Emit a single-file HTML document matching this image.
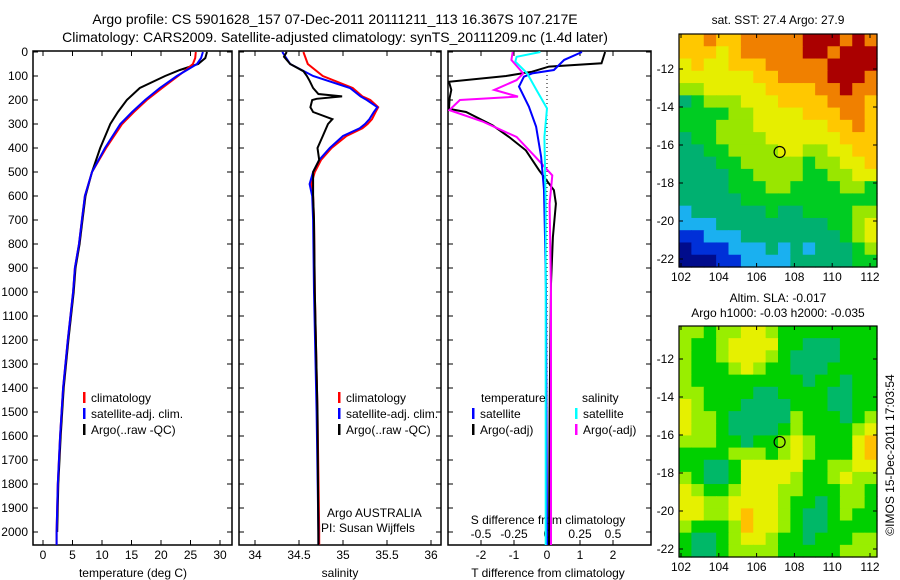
<!DOCTYPE html>
<html><head><meta charset="utf-8"><style>
html,body{margin:0;padding:0;background:#fff;}
svg{display:block;font-family:"Liberation Sans",sans-serif;}
</style></head><body>
<svg id="c" width="900" height="580" viewBox="0 0 900 580" xmlns="http://www.w3.org/2000/svg">
<rect width="900" height="580" fill="#fff"/>
<text x="335" y="24" font-size="14" text-anchor="middle">Argo profile: CS 5901628_157 07-Dec-2011 20111211_113 16.367S 107.217E</text>
<text x="335" y="42" font-size="14" text-anchor="middle">Climatology: CARS2009. Satellite-adjusted climatology: synTS_20111209.nc (1.4d later)</text>
<g id="g"></g>
</svg>
<script>
// ---------- data ----------
const tDepth=[0,25,50,75,100,150,200,250,300,400,500,600,700,800,900,1000,1200,1400,1600,1800,2000,2055];
const tClim=[25.9,25.8,25.4,24.2,22.9,20.2,17.6,15.4,13.4,10.7,8.3,7.1,6.6,6.1,5.4,5.1,4.2,3.4,2.9,2.5,2.3,2.3];
const tSat=[27.1,26.8,26.1,24.4,22.7,19.8,17.3,15.1,13.1,10.5,8.3,7.1,6.6,6.1,5.4,5.1,4.2,3.4,2.9,2.5,2.3,2.3];
const tArgo=[27.8,27.5,26.3,23.2,20.7,16.4,14.2,12.7,11.4,9.7,8.3,7.2,6.7,6.2,5.5,5.2,4.3,3.5,3.0,2.6,2.4];
const sDepth=[0,50,100,150,185,200,230,250,280,300,318,350,400,450,500,550,600,700,1000,1500,2000,2055];
const sClim=[34.55,34.60,34.77,35.11,35.22,35.31,35.40,35.37,35.33,35.28,35.22,35.04,34.87,34.75,34.68,34.64,34.66,34.67,34.68,34.71,34.73,34.73];
const sSat=[34.31,34.40,34.66,35.08,35.20,35.27,35.39,35.35,35.30,35.25,35.19,35.00,34.85,34.73,34.66,34.62,34.65,34.66,34.67,34.70,34.72,34.72];
const sArgoDepth=[0,20,50,80,100,120,150,175,185,195,200,230,250,280,300,350,400,450,500,550,600,700,1000,1500,2055];
const sArgo=[34.36,34.33,34.40,34.55,34.59,34.62,34.66,34.72,34.99,34.70,34.65,34.63,34.66,34.88,34.83,34.77,34.71,34.73,34.66,34.66,34.66,34.67,34.68,34.71,34.72];
const dDepthBlack=[0,47,61,82,100,124,158,192,237,250,306,354,410,493,576,632,771,965,1500,2055];
const dTArgo=[1.76,1.65,0.06,-0.45,-1.24,-2.97,-2.9,-2.95,-2.97,-2.45,-1.65,-1.15,-0.64,-0.24,0.21,0.27,0.18,0.12,0.08,0.06];
const dDepthBlue=[0,33,75,89,103,144,228,311,436,575,770,1000,2055];
const dTSat=[1.06,0.52,0.21,-0.45,-0.70,-0.85,-0.55,-0.33,-0.18,-0.09,-0.06,-0.03,0.0];
const dDepthMag=[0,33,89,117,158,186,200,242,289,354,436,514,632,1000,2055];
const dSArgo=[-0.26,-0.27,-0.18,-0.23,-0.40,-0.22,-0.66,-0.74,-0.49,-0.23,-0.09,0.04,0.02,0.03,0.03];
const dDepthCyan=[0,20,40,89,158,235,354,632,1000,2055];
const dSSat=[-0.05,-0.23,-0.24,-0.15,-0.08,0.0,-0.02,-0.01,-0.01,-0.01];
const depthTicks=[0,100,200,300,400,500,600,700,800,900,1000,1100,1200,1300,1400,1500,1600,1700,1800,1900,2000];
const tTicks=[0,5,10,15,20,25,30];
const sTicks=[34,34.5,35,35.5,36];
const sTickLabels=["34","34.5","35","35.5","36"];
const dTTicks=[-2,-1,0,1,2];
const dSTicks=[-0.5,-0.25,0,0.25,0.5];
const dSTickLabels=["-0.5","-0.25","0","0.25","0.5"];
const latTicks=[-12,-14,-16,-18,-20,-22];
const lonTicks=[102,104,106,108,110,112];
const sstRows=[
"7787788888999898","7776788888998999","6766777888889999","6666667788889998",
"5566666777788988","3455566677778887","4444556666777887","4445556666667787",
"3445555666666777","3344555566556677","3334455555455667","3333445555445566",
"3333444554444554","3333344444444444","2333333433444455","2223333333334456",
"1122233333333456","0111222323233345","0001122223333344"];
const slaRows=[
"5545566544444444","5445666644333444","5445666543333444","5444565443334444",
"5444444444344344","5544443344443344","6544433334443344","6554333335444345",
"6554333345444456","5554434456544467","4444555456544467","4433466666445566",
"5433466665445655","6544566655444554","6655666654434554","6655676654334544",
"5444576654334444","4334566544344455","4334555544444555"];
const argoLat=-16.367, argoLon=107.217;
// ---------- helpers ----------
const NS="http://www.w3.org/2000/svg";
const G=document.getElementById('g');
function el(tag,at,parent){const e=document.createElementNS(NS,tag);for(const k in at)e.setAttribute(k,at[k]);(parent||G).appendChild(e);return e;}
const Y0=52,YS=0.24;
function yD(d){return Y0+d*YS;}
const P1={l:33,r:232},P2={l:239,r:441},P3={l:448,r:651},TOP=51,BOT=545;
function xT(v){return 43+v*(177/30);}
function xS(v){return 255+(v-34)*88;}
function xDT(v){return 547+v*33;}
function xDS(v){return 547+v*132;}
function clip(id,p){const cp=el('clipPath',{id:id});el('rect',{x:p.l,y:TOP,width:p.r-p.l,height:BOT-TOP},cp);}
function line(xs,ds,fx,col,name,cp,w){
  const pts=xs.map((v,i)=>fx(v).toFixed(1)+','+yD(ds[i]).toFixed(1)).join(' ');
  const e=el('polyline',{points:pts,fill:'none',stroke:col,'stroke-width':w||2,'clip-path':'url(#'+cp+')'});
  
  
}
function panel(p,name){
  const r=el('rect',{x:p.l,y:TOP,width:p.r-p.l,height:BOT-TOP,fill:'none',stroke:'#000','stroke-width':1.5});
  
  
  depthTicks.forEach(d=>{
    el('line',{x1:p.l,x2:p.l+5,y1:yD(d),y2:yD(d),stroke:'#000'});
    el('line',{x1:p.r-5,x2:p.r,y1:yD(d),y2:yD(d),stroke:'#000'});
  });
}
function xticks(p,ticks,fx,labels,ly,name){
  ticks.forEach((t,i)=>{
    const x=fx(t);
    el('line',{x1:x,x2:x,y1:TOP,y2:TOP+5,stroke:'#000'});
    el('line',{x1:x,x2:x,y1:BOT-5,y2:BOT,stroke:'#000'});
    if(labels){const tx=el('text',{x:x,y:ly,'font-size':12,'text-anchor':'middle'});tx.textContent=labels[i];
      
      }
  });
}
function txt(x,y,s,name,anchor,size){const t=el('text',{x:x,y:y,'font-size':size||12,'text-anchor':anchor||'start'});t.textContent=s;
  
  return t;}
function leg(x,y,col,s,name){el('rect',{x:x,y:y-10,width:2.5,height:11,fill:col});txt(x+8,y,s,name);}
// ---------- panel 1 ----------
clip('c1',P1);clip('c2',P2);clip('c3',P3);
panel(P1,'temperature-panel');
depthTicks.forEach(d=>{txt(28,yD(d)+4,String(d),'depth-tick-label','end');});
xticks(P1,tTicks,xT,tTicks.map(String),559,'temperature-tick-label');
txt(133,577,'temperature (deg C)','temperature-axis-title','middle');
line(tArgo,tDepth.slice(0,tArgo.length),xT,'#000','temp-argo-line','c1');
line(tClim,tDepth,xT,'#f00','temp-climatology-line','c1');
line(tSat,tDepth,xT,'#00f','temp-satellite-line','c1');
leg(83,402,'#f00','climatology','legend-climatology');
leg(83,418,'#00f','satellite-adj. clim.','legend-satellite');
leg(83,434,'#000','Argo(..raw -QC)','legend-argo');
// ---------- panel 2 ----------
panel(P2,'salinity-panel');
xticks(P2,sTicks,xS,sTickLabels,559,'salinity-tick-label');
txt(340,577,'salinity','salinity-axis-title','middle');
line(sClim,sDepth,xS,'#f00','sal-climatology-line','c2');
line(sSat,sDepth,xS,'#00f','sal-satellite-line','c2');
line(sArgo,sArgoDepth,xS,'#000','sal-argo-line','c2');
leg(338,402,'#f00','climatology','legend-climatology');
leg(338,418,'#00f','satellite-adj. clim.','legend-satellite');
leg(338,434,'#000','Argo(..raw -QC)','legend-argo');
txt(327,517,'Argo AUSTRALIA','institution-label');
txt(321,532,'PI: Susan Wijffels','pi-label');
// ---------- panel 3 ----------
panel(P3,'difference-panel');
xticks(P3,dTTicks,xDT,dTTicks.map(String),559,'t-diff-tick-label');
dSTicks.forEach((t,i)=>{txt(xDS(t),538,dSTickLabels[i],'s-diff-tick-label','middle');});
txt(548,524,'S difference from climatology','s-diff-axis-title','middle');
txt(548,577,'T difference from climatology','t-diff-axis-title','middle');
el('line',{x1:xDT(0),x2:xDT(0),y1:TOP,y2:BOT,stroke:'#000','stroke-dasharray':'1,3'});
line(dTArgo,dDepthBlack,xDT,'#000','tdiff-argo-line','c3');
line(dSArgo,dDepthMag,xDS,'#f0f','sdiff-argo-line','c3');
line(dTSat,dDepthBlue,xDT,'#00f','tdiff-satellite-line','c3');
line(dSSat,dDepthCyan,xDS,'#0ff','sdiff-satellite-line','c3');
txt(481,402,'temperature','legend-temperature-header');
txt(582,402,'salinity','legend-salinity-header');
leg(472,418,'#00f','satellite','legend-t-satellite');
leg(472,434,'#000','Argo(-adj)','legend-t-argo');
leg(575,418,'#0ff','satellite','legend-s-satellite');
leg(575,434,'#f0f','Argo(-adj)','legend-s-argo');
// ---------- maps ----------
const sstCol=['#000c8c','#0030d8','#1ab0f0','#00b070','#00cc22','#99e600','#e6ee00','#ffc800','#f08000','#aa0000'];
const slaCol=['#0060b0','#00a0d0','#00b878','#00b868','#00d000','#99ee00','#e6f000','#ffc000','#f08000','#aa0000'];
const MX0=679,MX1=877;
function lonX(v){return 681+(v-102)*18.9;}
function map(rows,cols,y0,y1,latRef,name,titleLines){
  const grp=el('g',{});
  
  
  const nr=rows.length,nc=rows[0].length,cw=(MX1-MX0)/nc,ch=(y1-y0)/nr;
  rows.forEach((r,i)=>{for(let j=0;j<nc;j++){
    const c=el('rect',{x:(MX0+j*cw).toFixed(2),y:(y0+i*ch).toFixed(2),width:(cw+0.6).toFixed(2),height:(ch+0.6).toFixed(2),fill:cols[+r[j]]},grp);
    
    
  }});
  el('rect',{x:MX0,y:y0,width:MX1-MX0,height:y1-y0,fill:'none',stroke:'#000','stroke-width':1.2});
  const latY=v=>latRef+(-v-22)*19;
  latTicks.forEach(l=>{const y=latY(l);
    el('line',{x1:MX0,x2:MX0+4,y1:y,y2:y,stroke:'#000'});el('line',{x1:MX1-4,x2:MX1,y1:y,y2:y,stroke:'#000'});
    txt(674,y+4,String(l),'latitude-tick-label','end');});
  lonTicks.forEach(l=>{const x=lonX(l);
    el('line',{x1:x,x2:x,y1:y0,y2:y0+4,stroke:'#000'});el('line',{x1:x,x2:x,y1:y1-4,y2:y1,stroke:'#000'});
    txt(x,y1+14,String(l),'longitude-tick-label','middle');});
  const c=el('circle',{cx:lonX(argoLon),cy:latY(argoLat),r:5.5,fill:'none',stroke:'#000','stroke-width':1.2});
  
  
  titleLines.forEach((s,i)=>txt(778,s[1],s[0],'map-title','middle'));
}
map(sstRows,sstCol,34,267,259,'sst-map',[['sat. SST: 27.4  Argo: 27.9',24]]);
map(slaRows,slaCol,326,557,549,'sla-map',[['Altim. SLA: -0.017',302],['Argo h1000: -0.03 h2000: -0.035',317]]);
const cr=txt(0,0,'©IMOS 15-Dec-2011 17:03:54','timestamp-label','middle');
cr.setAttribute('transform','translate(894,455) rotate(-90)');
</script>
</body></html>
